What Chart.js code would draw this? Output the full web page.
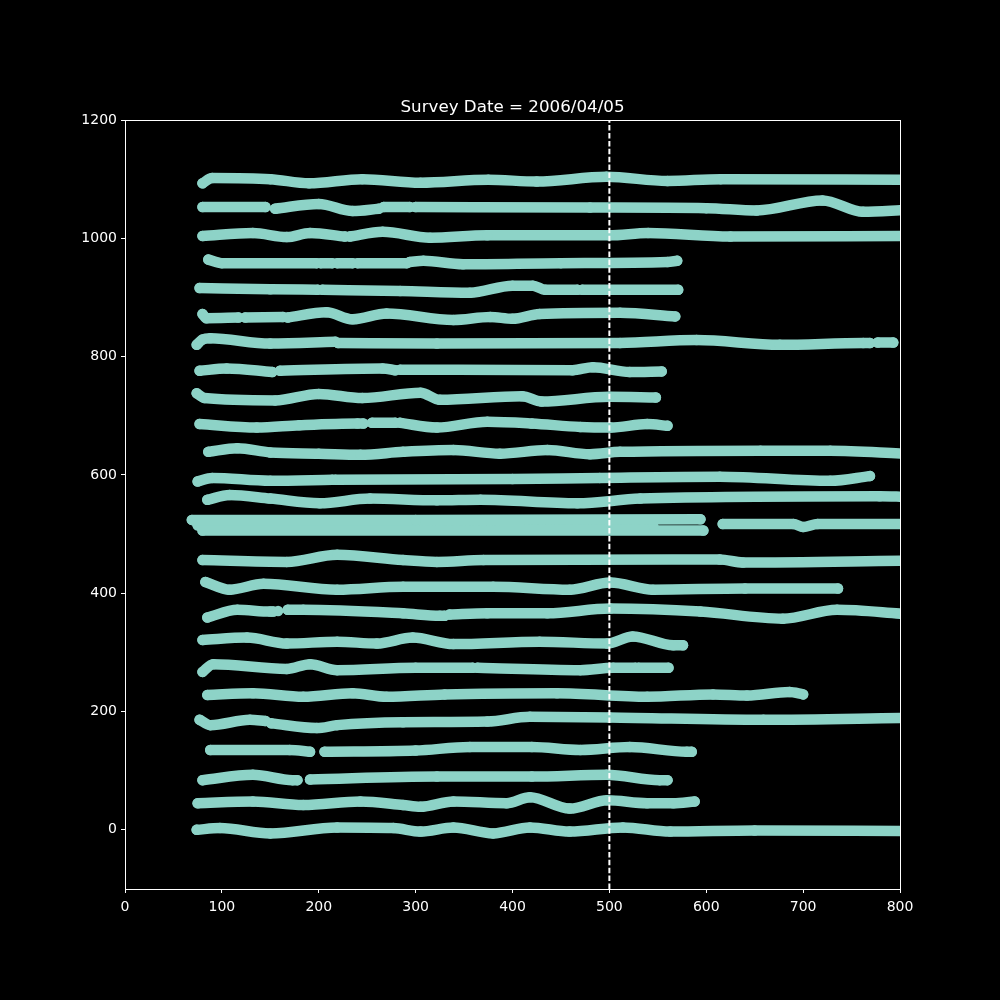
<!DOCTYPE html>
<html><head><meta charset="utf-8">
<script src="https://cdn.jsdelivr.net/npm/chart.js@4/dist/chart.umd.min.js"></script>
<style>html,body{margin:0;padding:0;background:#000;}</style>
</head><body>
<canvas id="c" width="1000" height="1000"></canvas>
<script>
const titleText = 'Survey Date = 2006/04/05';
const xTicks = [0, 100, 200, 300, 400, 500, 600, 700, 800];
const yTicks = [0, 200, 400, 600, 800, 1000, 1200];
const surveyX = 500;

// each row: list of continuous segments of [x, y] survey points
const row1100 = [[[80,1093],[90,1102],[150,1100],[190,1093],[245,1100],[305,1094],[375,1099],[425,1096],[497,1104],[560,1097],[615,1100],[805,1099]]];
const row1053 = [[[80,1053],[145,1053]],
  [[155,1050],[200,1058],[235,1046],[262,1050]],
  [[267,1053],[294,1053]],
  [[300,1053],[480,1052],[600,1051],[652,1047],[720,1064],[762,1045],[805,1048]]];
const row1005 = [[[80,1004],[132,1009],[167,1002],[191,1009],[227,1003]],
  [[232,1003],[266,1011],[315,1001],[374,1005],[500,1005],[540,1009],[625,1003],[805,1004]]];
const row960 = [[[86,964],[100,958],[198,958]],[[202,958],[214,958]],[[219,958],[235,958]],[[240,958],[291,958]],
  [[294,960],[308,962],[349,956],[450,958],[560,960],[570,962]]];
const row917 = [[[77,916],[150,914],[199,913]],
  [[204,913],[284,911],[356,908],[400,920],[421,920],[434,913],[467,913]],
  [[472,913],[571,913]]];
const row867 = [[[80,872],[84,865],[117,866]],[[124,866],[163,867]],
  [[168,866],[208,875],[235,863],[270,873],[339,862],[377,867],[400,864],[428,872],[511,874],[568,868]]];
const row825 = [[[74,820],[80,829],[88,831],[150,822],[217,825]],
  [[220,823],[322,822],[511,823],[590,828],[676,820],[762,823],[769,823]],
  [[777,824],[793,824]]];
const row777 = [[[77,776],[105,780],[152,774]],[[160,776],[266,780],[279,777]],
  [[284,778],[462,777],[483,782],[521,774],[554,775]]];
const row730 = [[[74,738],[82,730],[155,726],[200,737],[245,730],[305,739],[325,727],[410,733],[430,724],[500,732],[548,731]]];
const row685 = [[[77,686],[136,680],[180,684],[240,687],[246,687]],[[255,688],[279,688]],
  [[284,688],[322,680],[374,690],[420,687],[470,681],[501,680],[539,686],[560,683]]];
const row640 = [[[86,639],[116,645],[150,638],[200,636],[243,634],[287,639],[339,642],[387,636],[436,642],[480,635],[511,639],[656,641],[728,641],[805,636]]];
const row595 = [[[75,589],[90,595],[150,590],[214,592]],[[217,592],[400,593],[490,595],[614,597],[728,590],[769,598]]];
const row560 = [[[85,558],[108,566],[150,560],[201,552],[253,560],[322,557],[367,558],[467,552],[532,560],[779,564],[805,563]]];
const row524 = [[[69,524],[300,524],[594,525]]];
const row515 = [[[75,515],[545,515]], [[617,517],[690,517],[700,512],[715,517],[805,517]]];
const row506 = [[[80,506],[597,506]]];
const row456 = [[[80,456],[167,453],[219,465],[287,456],[322,453],[370,456],[614,457],[638,452],[805,455]]];
const row410 = [[[83,419],[108,406],[143,416],[219,406],[287,411],[380,411],[459,406],[501,418],[545,406],[640,408],[736,408]]];
const row366 = [[[85,359],[116,372],[150,369],[153,369]],[[158,370]],
  [[168,372],[184,372],[287,366],[325,362],[330,362]],
  [[335,364],[374,366],[436,366],[501,374],[594,369],[679,357],[735,372],[805,365]]];
const row320 = [[[80,321],[126,325],[167,315],[219,318],[260,315],[297,325],[339,314],[428,318],[498,315],[524,327],[566,312],[576,312]]];
const row274 = [[[80,267],[91,280],[167,272],[191,280],[219,270],[300,274],[359,274]],
  [[364,274],[470,270],[504,274],[527,274]],[[530,274],[561,274]]];
const row229 = [[[85,228],[132,231],[184,225],[235,231],[270,225],[330,229],[446,231],[539,225],[607,229],[642,227],[686,233],[700,229]]];
const row185 = [[[77,186],[88,177],[129,186],[145,184]],[[151,180],[198,172],[219,177],[287,182],[374,183],[418,191],[500,190],[659,186],[805,189]]];
const row136 = [[[88,135],[170,135],[191,132]],[[206,132],[300,134],[356,140],[420,140],[470,135],[521,140],[580,132],[585,132]]];
const row88 = [[[80,84],[132,93],[173,84],[178,84]],[[191,85],[322,90],[420,90],[497,93],[552,84],[560,84]]];
const row46 = [[[75,45],[132,48],[184,42],[243,48],[287,42],[305,39],[339,48],[394,45],[418,55],[459,36],[498,50],[539,45],[566,45],[588,48]]];
const row0 = [[[74,0],[98,3],[150,-6],[219,4],[277,3],[305,-3],[339,4],[380,-6],[418,4],[459,-3],[514,4],[563,-3],[650,-1],[805,-2]]];

const rows = [row1100,row1053,row1005,row960,row917,row867,row825,row777,row730,row685,row640,row595,row560,
  row524,row515,row506,row456,row410,row366,row320,row274,row229,row185,row136,row88,row46,row0];

const teal = '#8dd3c7';
const datasets = [{
  type: 'line', data: [{x: surveyX, y: -100}, {x: surveyX, y: 1200}],
  borderColor: '#ffffff', borderWidth: 2, borderDash: [5.5, 2.4], pointRadius: 0, order: -1, clip: 0
}];
rows.forEach(row => row.forEach(seg => {
  datasets.push({
    type: 'scatter', showLine: true,
    data: seg.map(p => ({x: p[0], y: p[1]})),
    borderColor: teal, backgroundColor: teal, borderWidth: 10.5,
    pointRadius: 5.25, pointBorderWidth: 0, pointHoverRadius: 5.25,
    borderCapStyle: 'round', borderJoinStyle: 'round',
    tension: 0.4, cubicInterpolationMode: 'monotone', clip: 0
  });
}));

const frame = {
  id: 'frame',
  beforeDraw(chart) {
    const c = chart.ctx; c.save(); c.fillStyle = '#000'; c.fillRect(0, 0, chart.width, chart.height); c.restore();
  },
  afterDatasetsDraw(chart) {
    const c = chart.ctx, a = chart.chartArea;
    c.save(); c.strokeStyle = '#fff'; c.lineWidth = 1;
    c.strokeRect(a.left + 0.5, a.top + 0.5, a.right - a.left, a.bottom - a.top);
    c.fillStyle = '#fff'; c.font = '16.7px "DejaVu Sans"'; c.textAlign = 'center'; c.textBaseline = 'alphabetic';
    c.fillText(titleText, (a.left + a.right) / 2, a.top - 8);
    c.restore();
  }
};

const tickFont = {family: 'DejaVu Sans', size: 14};
new Chart(document.getElementById('c'), {
  data: {datasets},
  options: {
    responsive: false, animation: false, devicePixelRatio: 1,
    layout: {padding: {top: 120, right: 100, bottom: 81, left: 0}},
    plugins: {legend: {display: false}, tooltip: {enabled: false}, title: {display: false}},
    scales: {
      x: {type: 'linear', min: 0, max: 800,
        afterBuildTicks: ax => { ax.ticks = xTicks.map(v => ({value: v})); },
        afterFit: s => { s.height = 30; },
        ticks: {color: '#fff', font: tickFont, padding: 6, maxRotation: 0, autoSkip: false, callback: v => String(v)},
        grid: {drawOnChartArea: false, color: '#fff', tickLength: 4},
        border: {color: '#fff', width: 1}},
      y: {type: 'linear', min: -100, max: 1200,
        afterBuildTicks: ax => { ax.ticks = yTicks.map(v => ({value: v})); },
        afterFit: s => { s.width = 125; },
        ticks: {color: '#fff', font: tickFont, padding: 4, autoSkip: false, callback: v => String(v)},
        grid: {drawOnChartArea: false, color: '#fff', tickLength: 4},
        border: {color: '#fff', width: 1}}
    }
  },
  plugins: [frame]
});
</script>
</body></html>
